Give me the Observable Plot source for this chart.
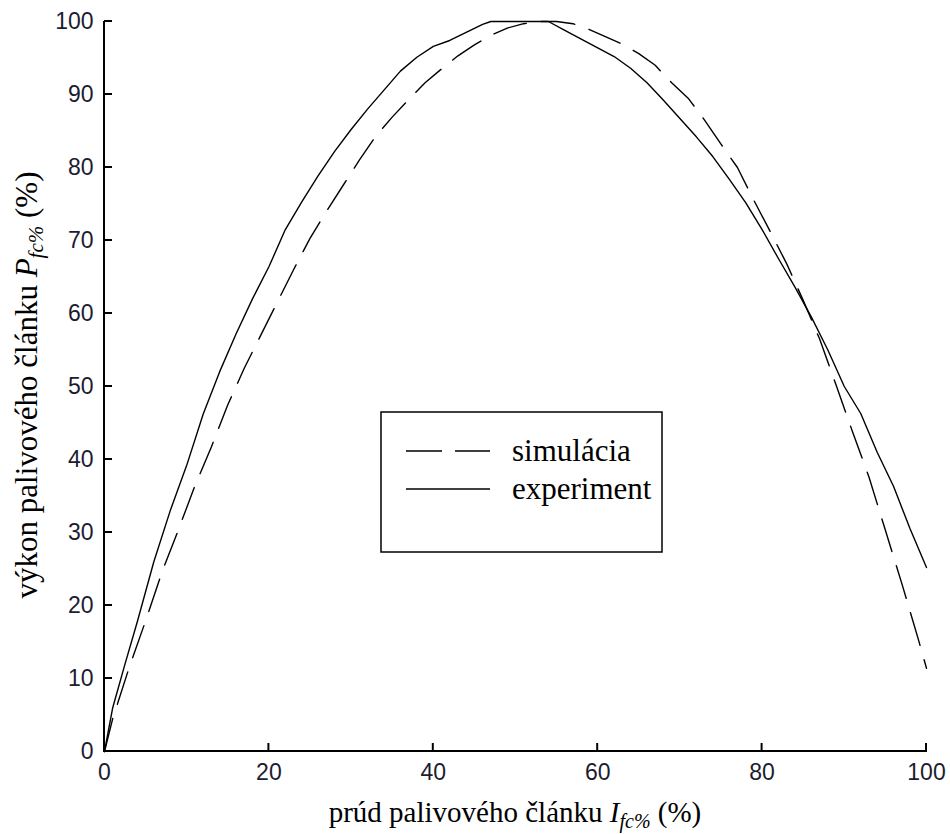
<!DOCTYPE html>
<html><head><meta charset="utf-8">
<script src="https://cdn.jsdelivr.net/npm/d3@7"></script>
<script src="https://cdn.jsdelivr.net/npm/@observablehq/plot@0.6"></script>
<style>body{margin:0;background:#fff}</style>
</head><body><div id="chart"></div>
<script>
// experiment (solid line)
const expX = [0, 1, 2.5, 4, 6, 8, 10, 12, 14, 16, 18, 20, 22, 24, 26, 28, 30, 32, 34, 36, 38, 40, 42, 44, 46, 47, 54, 56, 58, 60, 62, 64, 66, 68, 70, 72, 74, 76, 78, 80, 82, 84, 86, 88, 90, 92, 94, 96, 98, 100];
const expY = [0, 6, 12, 17.8, 26, 33, 39.2, 46.2, 52, 57.2, 62, 66.4, 71.5, 75.3, 78.9, 82.2, 85.2, 88, 90.6, 93.2, 95.1, 96.6, 97.4, 98.5, 99.6, 100, 100, 98.8, 97.6, 96.4, 95.2, 93.6, 91.6, 89.2, 86.7, 84.2, 81.5, 78.4, 75.2, 71.5, 67.5, 63.6, 59.5, 55, 50, 46.3, 41, 36.3, 30.5, 25.2];
// simulation (dashed line)
const simX = [0, 1, 3, 5, 7, 9, 11, 13, 15, 17, 19, 21, 23, 25, 27, 29, 31, 33, 35, 37, 39, 41, 43, 45, 47, 49, 51, 53, 55, 57, 59, 61, 63, 65, 67, 69, 71, 73, 75, 77, 79, 81, 83, 85, 87, 89, 91, 93, 95, 97, 99, 100];
const simY = [0, 4.5, 11.5, 17.9, 24.6, 30.4, 36.4, 41.7, 47.5, 52.5, 57, 61.5, 66, 70.3, 74, 77.5, 81, 84.3, 86.9, 89.3, 91.6, 93.5, 95.3, 96.8, 98.1, 99.1, 99.7, 100, 100, 99.7, 98.9, 97.9, 96.9, 95.6, 94, 91.6, 89.5, 86.5, 83.2, 80, 75.5, 71.2, 66.8, 61.8, 56.5, 50.2, 43.8, 37.6, 30.3, 23, 15.4, 11.4];
const xTicks = [0, 20, 40, 60, 80, 100];
const yTicks = [0, 10, 20, 30, 40, 50, 60, 70, 80, 90, 100];
const seriesNames = ["simulácia", "experiment"];

const experiment = expX.map((x, i) => ({x, y: expY[i]}));
const simulation = simX.map((x, i) => ({x, y: simY[i]}));

const chart = Plot.plot({
  width: 950, height: 834,
  marginLeft: 104, marginRight: 24, marginTop: 21, marginBottom: 83,
  style: {fontFamily: "'Liberation Sans', Arial, sans-serif", fontSize: "23px", color: "#1c1c30", background: "white"},
  x: {domain: [0, 100], label: null, ticks: xTicks, tickSize: 0, tickPadding: 12},
  y: {domain: [0, 100], label: null, ticks: yTicks, tickSize: 0, tickPadding: 11},
  marks: [
    Plot.line(simulation, {x: "x", y: "y", stroke: "black", strokeWidth: 1.4, strokeDasharray: "34,15"}),
    Plot.line(experiment, {x: "x", y: "y", stroke: "black", strokeWidth: 1.4})
  ]
});
document.getElementById("chart").appendChild(chart);

const svg = d3.select(chart);
const sx = chart.scale("x"), sy = chart.scale("y");
const x0 = sx.apply(0), y0 = sy.apply(0);
const ax = svg.append("g").attr("fill", "none");
// axis lines (left and bottom)
ax.append("line").attr("x1", x0).attr("x2", x0).attr("y1", sy.apply(100)).attr("y2", y0 + 1)
  .attr("stroke", "black").attr("stroke-width", 2);
ax.append("line").attr("x1", x0 - 1).attr("x2", sx.apply(100) + 1).attr("y1", y0).attr("y2", y0)
  .attr("stroke", "black").attr("stroke-width", 2);
// inward ticks
xTicks.forEach(v => ax.append("line").attr("x1", sx.apply(v)).attr("x2", sx.apply(v)).attr("y1", y0).attr("y2", y0 - 8)
  .attr("stroke", "black").attr("stroke-width", 2));
yTicks.forEach(v => ax.append("line").attr("x1", x0).attr("x2", x0 + 8).attr("y1", sy.apply(v)).attr("y2", sy.apply(v))
  .attr("stroke", "black").attr("stroke-width", 2));

const serif = "'Liberation Serif', 'Times New Roman', serif";
// x label
const xl = svg.append("text").attr("x", 515).attr("y", 822).attr("text-anchor", "middle")
  .style("font-family", serif).style("font-size", "29px").attr("fill", "black");
xl.append("tspan").text("prúd palivového článku ");
xl.append("tspan").attr("font-style", "italic").text("I");
xl.append("tspan").attr("font-style", "italic").attr("font-size", "20px").attr("dy", 6).text("fc%");
xl.append("tspan").attr("dy", -6).text(" (%)");
// y label
const yl = svg.append("text").attr("transform", "translate(37,385) rotate(-90)").attr("text-anchor", "middle")
  .style("font-family", serif).style("font-size", "31px").attr("fill", "black");
yl.append("tspan").text("výkon palivového článku ");
yl.append("tspan").attr("font-style", "italic").text("P");
yl.append("tspan").attr("font-style", "italic").attr("font-size", "21px").attr("dy", 6).text("fc%");
yl.append("tspan").attr("dy", -6).text(" (%)");
// legend
const lg = svg.append("g");
lg.append("rect").attr("x", 381).attr("y", 412).attr("width", 281).attr("height", 140)
  .attr("fill", "white").attr("stroke", "black").attr("stroke-width", 1.5);
lg.append("line").attr("x1", 406).attr("x2", 490).attr("y1", 451).attr("y2", 451)
  .attr("stroke", "black").attr("stroke-width", 1.4).attr("stroke-dasharray", "36,13");
lg.append("line").attr("x1", 406).attr("x2", 490).attr("y1", 489).attr("y2", 489)
  .attr("stroke", "black").attr("stroke-width", 1.4);
lg.selectAll("text.lt").data(seriesNames).join("text").attr("class", "lt")
  .attr("x", 512).attr("y", (d, i) => 461 + i * 38).attr("text-anchor", "start")
  .style("font-family", serif).style("font-size", "31px").attr("fill", "black").text(d => d);
</script>
</body></html>
